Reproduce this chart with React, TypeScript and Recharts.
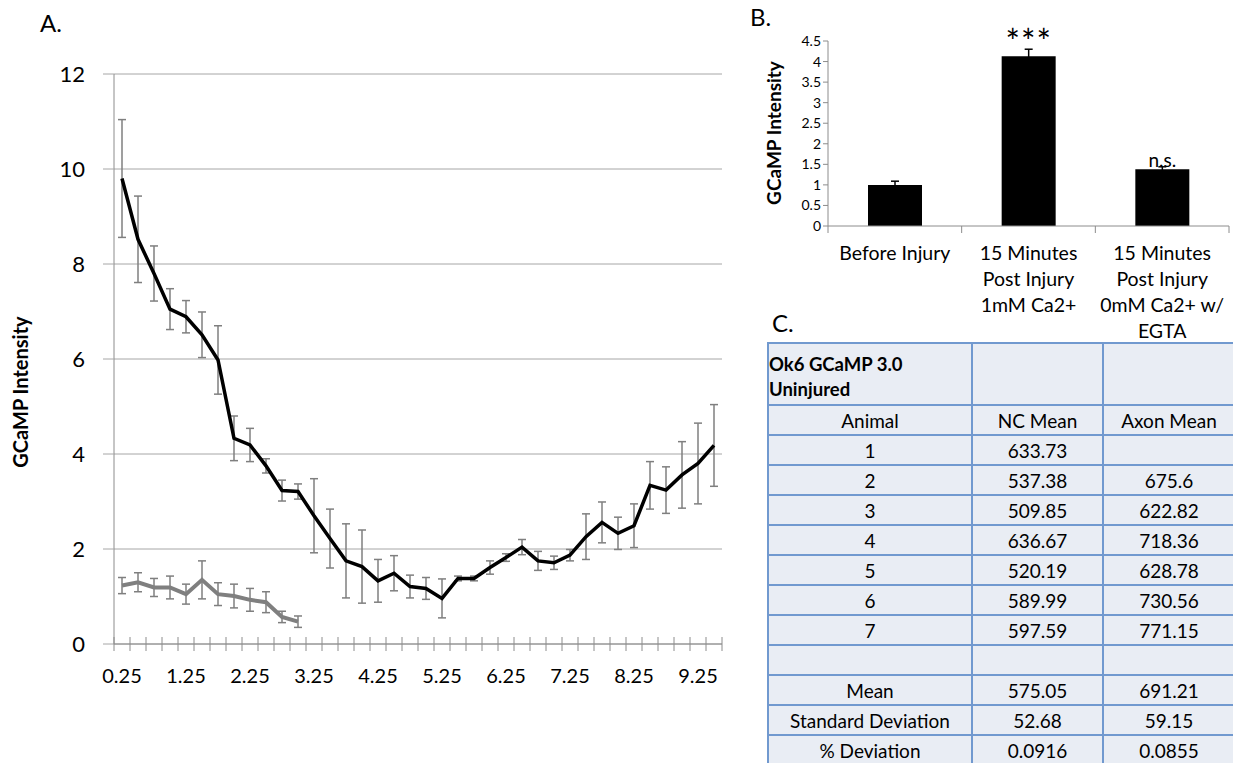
import React from "react";
import { LineChart, Line, XAxis, YAxis, CartesianGrid, ErrorBar, BarChart, Bar, LabelList } from "recharts";

// Panel A: GCaMP intensity over time
const timePoints = [
  0.25, 0.5, 0.75, 1, 1.25, 1.5, 1.75, 2, 2.25, 2.5, 2.75, 3, 3.25, 3.5, 3.75, 4, 4.25, 4.5, 4.75,
  5, 5.25, 5.5, 5.75, 6, 6.25, 6.5, 6.75, 7, 7.25, 7.5, 7.75, 8, 8.25, 8.5, 8.75, 9, 9.25, 9.5,
];
const blackValues = [
  9.8, 8.52, 7.8, 7.05, 6.89, 6.51, 5.98, 4.33, 4.19, 3.75, 3.23, 3.21, 2.7, 2.22, 1.75, 1.63, 1.33, 1.49, 1.21,
  1.17, 0.96, 1.38, 1.38, 1.61, 1.82, 2.04, 1.75, 1.71, 1.87, 2.26, 2.56, 2.33, 2.49, 3.34, 3.24, 3.56, 3.8, 4.18,
];
const blackErrors = [
  1.24, 0.91, 0.58, 0.43, 0.34, 0.48, 0.72, 0.47, 0.35, 0.15, 0.22, 0.16, 0.78, 0.62, 0.78, 0.77, 0.45, 0.37, 0.24,
  0.23, 0.41, 0.05, 0.05, 0.14, 0.08, 0.16, 0.2, 0.14, 0.12, 0.48, 0.43, 0.34, 0.46, 0.5, 0.49, 0.7, 0.85, 0.86,
];
const grayValues = [1.23, 1.3, 1.19, 1.19, 1.05, 1.35, 1.05, 1.01, 0.93, 0.88, 0.57, 0.47];
const grayErrors = [0.17, 0.2, 0.19, 0.24, 0.21, 0.4, 0.24, 0.25, 0.24, 0.22, 0.12, 0.12];
const timeLabels = [0.25, 1.25, 2.25, 3.25, 4.25, 5.25, 6.25, 7.25, 8.25, 9.25];
const yTicksA = [0, 2, 4, 6, 8, 10, 12];

// Panel B: bar chart
const barCategories = ["Before Injury", "15 Minutes Post Injury 1mM Ca2+", "15 Minutes Post Injury 0mM Ca2+ w/ EGTA"];
const barLabelLines = [
  ["Before Injury"],
  ["15 Minutes", "Post Injury", "1mM Ca2+"],
  ["15 Minutes", "Post Injury", "0mM Ca2+ w/", "EGTA"],
];
const barValues = [1.0, 4.13, 1.38];
const barErrors = [0.09, 0.17, 0.06];
const barMarks = ["", "***", "n.s."];
const yTicksB = [0, 0.5, 1, 1.5, 2, 2.5, 3, 3.5, 4, 4.5];

// Panel C: table
const tableHeader = ["Animal", "NC Mean", "Axon Mean"];
const animals = ["1", "2", "3", "4", "5", "6", "7"];
const ncMeans = ["633.73", "537.38", "509.85", "636.67", "520.19", "589.99", "597.59"];
const axonMeans = ["", "675.6", "622.82", "718.36", "628.78", "730.56", "771.15"];
const summaryRows = [
  ["Mean", "575.05", "691.21"],
  ["Standard Deviation", "52.68", "59.15"],
  ["% Deviation", "0.0916", "0.0855"],
];

const FONT = "Lato, 'Open Sans', sans-serif";
const AXIS_GRAY = "#8c8c8c";
const GRID_GRAY = "#a6a6a6";

const lineData = timePoints.map((t, i) => ({
  t,
  black: blackValues[i],
  blackErr: blackErrors[i],
  gray: i < grayValues.length ? grayValues[i] : null,
  grayErr: i < grayErrors.length ? grayErrors[i] : null,
}));

const barData = barCategories.map((name, i) => ({
  name,
  value: barValues[i],
  err: barErrors[i],
  mark: barMarks[i],
}));

const TimeTick = (props: any) => {
  const { x, y, payload, index } = props;
  const half = payload.offset ?? 8;
  const showLabel = timeLabels.includes(payload.value);
  const isLast = index === timePoints.length - 1;
  return (
    <g>
      <line x1={x - half} x2={x - half} y1={y - 7} y2={y + 7} stroke={AXIS_GRAY} />
      {isLast && <line x1={x + half} x2={x + half} y1={y - 7} y2={y + 7} stroke={AXIS_GRAY} />}
      {showLabel && (
        <text x={x} y={y + 39} textAnchor="middle" fontSize={20} fontFamily={FONT} fill="#000">
          {payload.value.toFixed(2)}
        </text>
      )}
    </g>
  );
};

const BarTick = (props: any) => {
  const { x, y, payload, index } = props;
  const half = payload.offset ?? 67;
  const lines = barLabelLines[barCategories.indexOf(payload.value)] || [];
  const isLast = index === barCategories.length - 1;
  return (
    <g>
      <line x1={x - half} x2={x - half} y1={y} y2={y + 7} stroke={AXIS_GRAY} />
      {isLast && <line x1={x + half} x2={x + half} y1={y} y2={y + 7} stroke={AXIS_GRAY} />}
      <text x={x} y={y + 34} textAnchor="middle" fontSize={19.5} fontFamily={FONT} fill="#000">
        {lines.map((l, i) => (
          <tspan key={i} x={x} dy={i === 0 ? 0 : 26}>
            {l}
          </tspan>
        ))}
      </text>
    </g>
  );
};

const MarkLabel = (props: any) => {
  const { x, y, width, value } = props;
  if (!value) return null;
  const stars = value === "***";
  return (
    <text
      x={x + width / 2}
      y={stars ? y - 2 : y - 2}
      textAnchor="middle"
      fontSize={stars ? 34 : 19}
      fontFamily={FONT}
      fill="#000"
      letterSpacing={stars ? 1 : 0}
    >
      {value}
    </text>
  );
};

const cellStyle: React.CSSProperties = {
  border: "2px solid #7199cf",
  background: "#e9edf4",
  textAlign: "center",
  padding: 0,
  height: 28,
  fontSize: 19,
  fontFamily: FONT,
  color: "#000",
  whiteSpace: "nowrap",
  overflow: "hidden",
};

export default function App() {
  return (
    <div style={{ position: "absolute", left: 0, top: 0, width: 1233, height: 763, background: "#fff", overflow: "hidden", fontFamily: FONT }}>
      {/* Panel A */}
      <div style={{ position: "absolute", left: 40, top: 8, fontSize: 24 }}>A.</div>
      <div
        style={{
          position: "absolute",
          left: 20,
          top: 392,
          transform: "translate(-50%, -50%) rotate(-90deg)",
          fontSize: 20,
          fontWeight: 700,
          whiteSpace: "nowrap",
        }}
      >
        GCaMP Intensity
      </div>
      <div style={{ position: "absolute", left: 0, top: 0 }}>
        <LineChart width={740} height={700} data={lineData} margin={{ top: 74, right: 18, left: 54, bottom: 16 }}>
          <CartesianGrid horizontal vertical={false} stroke={GRID_GRAY} />
          <XAxis
            dataKey="t"
            scale="band"
            interval={0}
            height={40}
            tickLine={false}
            tickSize={0}
            tickMargin={0}
            axisLine={{ stroke: AXIS_GRAY }}
            tick={<TimeTick />}
          />
          <YAxis
            domain={[0, 12]}
            ticks={yTicksA}
            interval={0}
            width={60}
            tickSize={11}
            tickMargin={18}
            tickLine={{ stroke: GRID_GRAY }}
            axisLine={{ stroke: AXIS_GRAY }}
            tick={{ fontSize: 22, fill: "#000", fontFamily: FONT }}
          />
          <Line
            type="linear"
            dataKey="gray"
            stroke="#7f7f7f"
            strokeWidth={4}
            dot={false}
            connectNulls={false}
            isAnimationActive={false}
          >
            <ErrorBar dataKey="grayErr" width={4} stroke="#7f7f7f" strokeWidth={1.5} direction="y" />
          </Line>
          <Line type="linear" dataKey="black" stroke="#000" strokeWidth={3.5} dot={false} isAnimationActive={false}>
            <ErrorBar dataKey="blackErr" width={4} stroke="#7f7f7f" strokeWidth={1.5} direction="y" />
          </Line>
        </LineChart>
      </div>

      {/* Panel B */}
      <div style={{ position: "absolute", left: 750, top: 2, fontSize: 24 }}>B.</div>
      <div
        style={{
          position: "absolute",
          left: 773,
          top: 133,
          transform: "translate(-50%, -50%) rotate(-90deg)",
          fontSize: 19,
          fontWeight: 700,
          whiteSpace: "nowrap",
        }}
      >
        GCaMP Intensity
      </div>
      <div style={{ position: "absolute", left: 740, top: 0 }}>
        <BarChart width={493} height={345} data={barData} margin={{ top: 41, right: 4, left: 48, bottom: 19 }}>
          <XAxis
            dataKey="name"
            interval={0}
            height={100}
            tickLine={false}
            tickSize={0}
            tickMargin={0}
            axisLine={{ stroke: AXIS_GRAY }}
            tick={<BarTick />}
          />
          <YAxis
            domain={[0, 4.5]}
            ticks={yTicksB}
            interval={0}
            width={40}
            tickSize={5}
            tickMargin={2}
            tickLine={{ stroke: AXIS_GRAY }}
            axisLine={{ stroke: AXIS_GRAY }}
            tick={{ fontSize: 14, fill: "#000", fontFamily: FONT }}
          />
          <Bar dataKey="value" fill="#000" barSize={54} isAnimationActive={false}>
            <ErrorBar dataKey="err" width={4} stroke="#000" strokeWidth={1.5} direction="y" />
            <LabelList dataKey="mark" content={<MarkLabel />} />
          </Bar>
        </BarChart>
      </div>

      {/* Panel C */}
      <div style={{ position: "absolute", left: 772, top: 308, fontSize: 24 }}>C.</div>
      <table
        style={{
          position: "absolute",
          left: 767,
          top: 342,
          borderCollapse: "collapse",
          tableLayout: "fixed",
          width: 467,
        }}
      >
        <colgroup>
          <col style={{ width: 204 }} />
          <col style={{ width: 131 }} />
          <col style={{ width: 132 }} />
        </colgroup>
        <tbody>
          <tr>
            <td
              style={{
                ...cellStyle,
                height: 58,
                textAlign: "left",
                fontWeight: 700,
                fontSize: 18.5,
                lineHeight: "25px",
                verticalAlign: "bottom",
                paddingBottom: 2,
              }}
            >
              Ok6 GCaMP 3.0
              <br />
              Uninjured
            </td>
            <td style={cellStyle}></td>
            <td style={cellStyle}></td>
          </tr>
          <tr>
            {tableHeader.map((h, i) => (
              <td key={i} style={cellStyle}>
                {h}
              </td>
            ))}
          </tr>
          {animals.map((a, i) => (
            <tr key={a}>
              <td style={cellStyle}>{a}</td>
              <td style={cellStyle}>{ncMeans[i]}</td>
              <td style={cellStyle}>{axonMeans[i]}</td>
            </tr>
          ))}
          <tr>
            <td style={cellStyle}></td>
            <td style={cellStyle}></td>
            <td style={cellStyle}></td>
          </tr>
          {summaryRows.map((r) => (
            <tr key={r[0]}>
              <td style={cellStyle}>{r[0]}</td>
              <td style={cellStyle}>{r[1]}</td>
              <td style={cellStyle}>{r[2]}</td>
            </tr>
          ))}
        </tbody>
      </table>
    </div>
  );
}
